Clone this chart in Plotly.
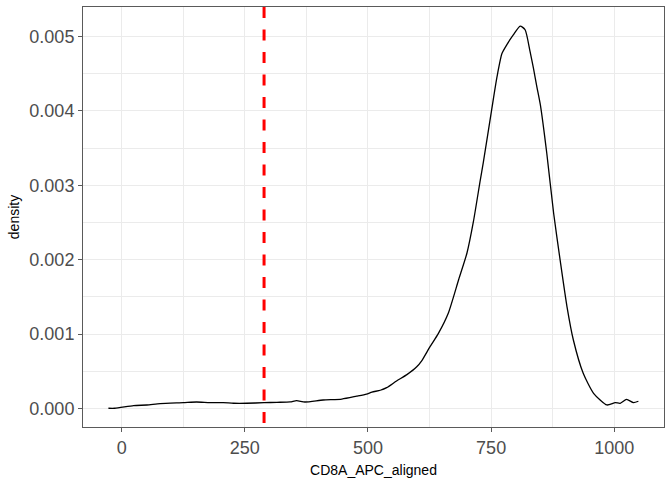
import plotly.graph_objects as go

# density curve (CD8A_APC_aligned)
cd8a_x = [-27, -14, 24, 51, 78, 125, 152, 179, 206, 227, 254, 289, 315, 342,
          355, 372, 409, 447, 477, 497, 508, 525, 538, 558, 579, 599, 609,
          626, 643, 663, 684, 701, 714, 728, 734, 751, 762, 772, 782, 795,
          809, 819, 829, 836, 843, 850, 863, 877, 890, 904, 917, 937, 958,
          985, 1002, 1012, 1025, 1039, 1049]
density = [0.000003, 0.000003, 0.000038, 0.000047, 0.000065, 0.000078,
           0.000087, 0.000078, 0.000078, 0.000070, 0.000070, 0.000078,
           0.000083, 0.000088, 0.000105, 0.000087, 0.000114, 0.000126,
           0.000165, 0.000193, 0.000220, 0.000245, 0.000280, 0.000370,
           0.000455, 0.000560, 0.000640, 0.000831, 0.00101, 0.00128,
           0.00173, 0.00209, 0.00251, 0.00307, 0.00330, 0.00401, 0.00446,
           0.00477, 0.00489, 0.00502, 0.00514, 0.00509, 0.00480, 0.00457,
           0.00432, 0.00408, 0.00343, 0.00262, 0.00200, 0.00137, 0.00092,
           0.000473, 0.000204, 0.000047, 0.000078, 0.000070, 0.000123,
           0.000078, 0.000097]

cutoff = 289

x_ticks = [0, 250, 500, 750, 1000]
y_ticks = [0.000, 0.001, 0.002, 0.003, 0.004, 0.005]

GRID = "#EBEBEB"
BORDER = "#5A5A5A"
TICK_TXT = "#4D4D4D"
FONT = "Liberation Sans, Arial, sans-serif"

fig = go.Figure()

fig.add_trace(go.Scatter(
    x=cd8a_x, y=density, mode="lines",
    line=dict(color="black", width=1.3, shape="spline", smoothing=0.6),
    hoverinfo="skip", showlegend=False))

fig.add_shape(type="line", xref="x", yref="paper",
              x0=cutoff, x1=cutoff, y0=1, y1=0,
              line=dict(color="#FF0000", width=3, dash="11px,11.5px"))

axis_common = dict(
    showline=True, mirror=True, linecolor=BORDER, linewidth=1,
    showgrid=True, gridcolor=GRID, gridwidth=1.3,
    zeroline=False, automargin=False,
    ticks="outside", ticklen=4, tickwidth=1, tickcolor=BORDER,
    tickfont=dict(size=18, color=TICK_TXT, family=FONT),
)

fig.update_layout(
    width=672, height=480,
    margin=dict(l=83, r=8, t=7, b=53),
    plot_bgcolor="white", paper_bgcolor="white",
    font=dict(family=FONT),
    xaxis=dict(
        axis_common,
        range=[-78.6, 1101],
        tickvals=x_ticks,
        ticktext=[str(v) for v in x_ticks],
        minor=dict(dtick=125, tick0=125, showgrid=True, gridcolor=GRID,
                   gridwidth=0.7, ticks=""),
        title=dict(text="CD8A_APC_aligned", standoff=8,
                   font=dict(size=14, color="black", family=FONT)),
    ),
    yaxis=dict(
        axis_common,
        range=[-0.000249, 0.005396],
        tickvals=y_ticks,
        tickformat=".3f",
        minor=dict(dtick=0.0005, tick0=0, showgrid=True, gridcolor=GRID,
                   gridwidth=0.7, ticks=""),
        title=dict(text="density", standoff=6,
                   font=dict(size=14, color="black", family=FONT)),
    ),
)

fig.write_html("out.html", config={"displayModeBar": False},
               post_script="document.body.style.margin='0px';")
